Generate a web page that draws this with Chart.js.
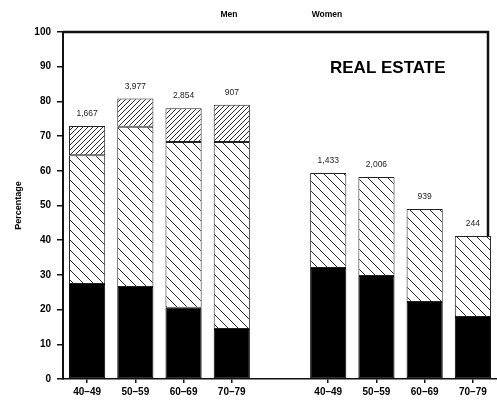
<!DOCTYPE html>
<html>
<head>
<meta charset="utf-8">
<script src="https://cdn.jsdelivr.net/npm/chart.js@4/dist/chart.umd.min.js"></script>
<style>
  html, body { margin: 0; padding: 0; background: #fff; }
  #wrap { width: 497px; height: 407px; }
</style>
</head>
<body>
<div id="wrap"><canvas id="chart" width="497" height="407"></canvas></div>
<script>
// age groups, shown once for men and once for women
const ageGroups = ['40–49', '50–59', '60–69', '70–79'];

// segment heights in percent (bottom to top)
const menSolid = [27.4, 26.5, 20.5, 14.4];
const menSparse = [37.1, 46.2, 47.8, 53.9];
const menDense = [8.4, 8.1, 9.7, 10.7];
const womenSolid = [32.0, 29.7, 22.2, 17.9];
const womenSparse = [27.4, 28.5, 26.8, 23.3];

// sample sizes printed above each bar
const menCounts = ['1,667', '3,977', '2,854', '907'];
const womenCounts = ['1,433', '2,006', '939', '244'];

const yTicks = [0, 10, 20, 30, 40, 50, 60, 70, 80, 90, 100];

const labels = [...ageGroups, '', ...ageGroups];
const counts = [...menCounts, '', ...womenCounts];
const solid = [...menSolid, null, ...womenSolid];
const sparse = [...menSparse, null, ...womenSparse];
const dense = [...menDense, null, null, null, null, null];

const canvas = document.getElementById('chart');
const ctx = canvas.getContext('2d');

// diagonal hatch fill; dir 'back' = "\", 'fwd' = "/"
function hatch(s, dir) {
  const c = document.createElement('canvas');
  c.width = c.height = s;
  const g = c.getContext('2d');
  g.fillStyle = '#fff';
  g.fillRect(0, 0, s, s);
  g.strokeStyle = '#2a2a2a';
  g.lineWidth = 1;
  g.beginPath();
  if (dir === 'back') {
    g.moveTo(-1, -1); g.lineTo(s + 1, s + 1);
    g.moveTo(-1, s - 1); g.lineTo(1, s + 1);
    g.moveTo(s - 1, -1); g.lineTo(s + 1, 1);
  } else {
    g.moveTo(-1, s + 1); g.lineTo(s + 1, -1);
    g.moveTo(-1, 1); g.lineTo(1, -1);
    g.moveTo(s - 1, s + 1); g.lineTo(s + 1, s - 1);
  }
  g.stroke();
  return ctx.createPattern(c, 'repeat');
}

// box frame (top + right edge) and header texts
const decorations = {
  id: 'decorations',
  beforeDatasetsDraw(chart) {
    const { ctx, chartArea: a } = chart;
    ctx.save();
    ctx.strokeStyle = '#111';
    ctx.lineWidth = 2.5;
    ctx.beginPath();
    ctx.moveTo(a.left, a.top);
    ctx.lineTo(488, a.top);
    ctx.lineTo(488, a.bottom - 6);
    ctx.stroke();
    ctx.restore();
  },
  afterDatasetsDraw(chart) {
    const { ctx, scales } = chart;
    const x = scales.x, y = scales.y;
    ctx.save();
    ctx.fillStyle = '#222';
    ctx.font = '8.5px "Liberation Sans", Arial, sans-serif';
    ctx.textAlign = 'center';
    ctx.textBaseline = 'bottom';
    counts.forEach((txt, i) => {
      if (!txt) return;
      const total = (solid[i] || 0) + (sparse[i] || 0) + (dense[i] || 0);
      ctx.fillText(txt, x.getPixelForValue(i), y.getPixelForValue(total) - 8);
    });

    ctx.fillStyle = '#000';
    ctx.font = 'bold 8.5px "Liberation Sans", Arial, sans-serif';
    ctx.textBaseline = 'middle';
    ctx.fillText('Men', 229, 15);
    ctx.fillText('Women', 327, 15);

    ctx.font = 'bold 17px "Liberation Sans", Arial, sans-serif';
    ctx.textAlign = 'left';
    ctx.textBaseline = 'alphabetic';
    ctx.fillText('REAL ESTATE', 330, 73);
    ctx.restore();
  }
};

const tickFont = { family: '"Liberation Sans", Arial, sans-serif', size: 10, weight: 'bold' };

new Chart(ctx, {
  type: 'bar',
  data: {
    labels: labels,
    datasets: [
      { data: solid, backgroundColor: '#000', borderColor: '#000', borderWidth: 1 },
      { data: sparse, backgroundColor: hatch(10, 'back'), borderColor: '#222', borderWidth: 1 },
      { data: dense, backgroundColor: hatch(5, 'fwd'), borderColor: '#222', borderWidth: 1 }
    ]
  },
  options: {
    responsive: false,
    animation: false,
    events: [],
    layout: { padding: { top: 32, right: 0, left: 0, bottom: 0 } },
    datasets: { bar: { barPercentage: 0.75, categoryPercentage: 1, borderSkipped: false } },
    plugins: { legend: { display: false }, tooltip: { enabled: false } },
    scales: {
      x: {
        stacked: true,
        grid: {
          drawOnChartArea: false,
          offset: false,
          tickLength: 4,
          color: (c) => (labels[c.index] ? '#111' : 'rgba(0,0,0,0)'),
          lineWidth: 1.5
        },
        border: { color: '#111', width: 1.5 },
        ticks: { color: '#000', font: tickFont, padding: 3, maxRotation: 0, autoSkip: false },
        afterFit: (s) => { s.height = 28; }
      },
      y: {
        stacked: true,
        min: 0,
        max: 100,
        afterBuildTicks: (s) => { s.ticks = yTicks.map((v) => ({ value: v })); },
        grid: { drawOnChartArea: false, tickLength: 6, color: '#111', lineWidth: 1.5 },
        border: { color: '#111', width: 2 },
        ticks: { color: '#000', font: tickFont, padding: 6 },
        title: {
          display: true,
          text: 'Percentage',
          color: '#000',
          font: { family: '"Liberation Sans", Arial, sans-serif', size: 9, weight: 'bold' },
          padding: { top: 13, bottom: 0 }
        },
        afterFit: (s) => { s.width = 63; }
      }
    }
  },
  plugins: [decorations]
});
</script>
</body>
</html>
